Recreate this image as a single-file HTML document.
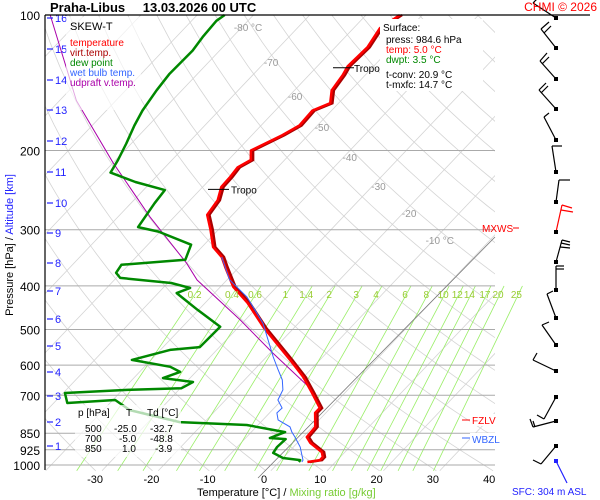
<!DOCTYPE html>
<html><head><meta charset="utf-8"><style>
body{margin:0;background:#fff;}
svg{display:block;font-family:"Liberation Sans",sans-serif;}
</style></head><body>
<svg id="c" width="600" height="500" viewBox="0 0 600 500" xmlns="http://www.w3.org/2000/svg">
<defs><clipPath id="pa"><rect x="45" y="15" width="450" height="457"/></clipPath>
<clipPath id="pm"><rect x="45" y="285" width="480" height="187"/></clipPath></defs>
<rect width="600" height="500" fill="#fff"/>
<g id="grid" clip-path="url(#pa)"></g>
<g id="mix" clip-path="url(#pm)"></g>
<g id="hl"></g>
<line x1="258" y1="478" x2="495" y2="237" stroke="#777" stroke-width="0.8"/>
<g id="traces"></g>
<g id="labels"></g>
<g id="barbs"></g>
<line x1="45" y1="15" x2="45" y2="470" stroke="#000" stroke-width="1.2"/>
<line x1="45" y1="15" x2="590" y2="15" stroke="#000" stroke-width="1.2"/>
<text x="50" y="12" font-size="13" font-weight="bold">Praha-Libus  <tspan dx="14">13.03.2026 00 UTC</tspan></text>
<text x="597" y="11" font-size="12" fill="#f00" text-anchor="end">CHMI © 2026</text>
<g>
<rect x="66" y="17" width="75" height="93" fill="#fff" fill-opacity="0.65"/>
<text x="70" y="30" font-size="11" fill="#000">SKEW-T</text>
<text x="70" y="46" font-size="10" fill="#f00">temperature</text>
<text x="70" y="56" font-size="10" fill="#a00">virt.temp.</text>
<text x="70" y="66" font-size="10" fill="#080">dew point</text>
<text x="70" y="76" font-size="10" fill="#36f">wet bulb temp.</text>
<text x="70" y="86" font-size="10" fill="#a0a">udpraft v.temp.</text>
</g>
<g>
<rect x="380" y="19" width="103" height="72" fill="#fff"/>
<text x="383" y="31" font-size="10">Surface:</text>
<text x="386" y="43" font-size="10">press: 984.6 hPa</text>
<text x="386" y="53" font-size="10" fill="#f00">temp: 5.0 °C</text>
<text x="386" y="63" font-size="10" fill="#080">dwpt: 3.5 °C</text>
<text x="386" y="78" font-size="10">t-conv: 20.9 °C</text>
<text x="386" y="88" font-size="10">t-mxfc: 14.7 °C</text>
</g>
<g>
<rect x="75" y="405" width="106" height="52" fill="#fff" fill-opacity="0.7"/>
<text x="78" y="416" font-size="10">p [hPa]</text><text x="126" y="416" font-size="10">T</text><text x="147" y="416" font-size="10">Td [°C]</text>
<text x="85" y="432" font-size="10">500</text><text x="114" y="432" font-size="10">-25.0</text><text x="150" y="432" font-size="10">-32.7</text>
<text x="85" y="442" font-size="10">700</text><text x="119" y="442" font-size="10">-5.0</text><text x="150" y="442" font-size="10">-48.8</text>
<text x="85" y="452" font-size="10">850</text><text x="122" y="452" font-size="10">1.0</text><text x="155" y="452" font-size="10">-3.9</text>
</g>
<g>
<text x="482" y="232" font-size="10" fill="#f00">MXWS</text><line x1="513" y1="228" x2="519" y2="228" stroke="#f00"/>
<rect x="470" y="414" width="28" height="12" fill="#fff"/><text x="472" y="424" font-size="10" fill="#f00">FZLV</text><line x1="462" y1="420" x2="470" y2="420" stroke="#f00"/>
<rect x="470" y="433" width="26" height="12" fill="#fff"/><text x="472" y="443" font-size="10" fill="#36f">WBZL</text><line x1="462" y1="438" x2="470" y2="438" stroke="#36f"/>
</g>
<text x="512" y="495" font-size="10" fill="#22f">SFC: 304 m ASL</text>
<text x="197" y="496" font-size="11">Temperature [°C]  /  <tspan fill="#7c3">Mixing ratio [g/kg]</tspan></text>
<text transform="translate(13,245) rotate(-90)" font-size="11" text-anchor="middle">Pressure [hPa]  /  <tspan fill="#22f">Altitude [km]</tspan></text>
</svg>
<script>
const tempP=[100,107,118,130,136,147,157,163,176,185,200,210,218,229,241,258,278,300,328,345,363,402,436,496,584,637,692,747,766,823,867,893,936,960,975,984.6];
const tempT=[-54.0,-55.3,-54.3,-54.6,-54.0,-53.4,-51.5,-53.4,-53.2,-54.6,-57.6,-56.0,-57.1,-56.8,-56.7,-55.1,-54.5,-51.4,-48.0,-44.8,-42.5,-37.7,-32.5,-25.3,-15.3,-10.1,-5.8,-1.9,-1.9,0.5,0.7,2.3,5.9,6.9,6.9,5.0];
const dewP=[100,103,112,120,135,147,163,176,193,210,224,235,245,262,296,303,324,350,359,374,384,394,404,415,452,493,547,555,584,605,621,641,654,675,681,692,728,717,755,803,815,845,871,876,912,940,965,975,984.6];
const dewT=[-85.1,-85.6,-85.3,-84.8,-85.0,-84.5,-83.6,-82.5,-80.9,-79.6,-78.8,-72.8,-66.2,-65.8,-64.7,-60.3,-52.3,-50.8,-61.3,-60.9,-59.3,-49.4,-45.2,-46.7,-40.2,-33.3,-33.5,-38.3,-43.4,-35.4,-32.8,-34.8,-28.8,-29.8,-39.2,-49.7,-47.6,-39.6,-35.3,-24.4,-12.0,-4.0,-5.7,-2.7,-2.9,-2.6,0,3.4,3.5];
const wbP=[345,388,423,484,575,615,647,681,717,747,766,794,823,845,867,912,975,984.6];
const wbT=[-44.8,-39.5,-33.6,-26.3,-18.8,-15.7,-13.3,-11.5,-10.7,-8.6,-8.7,-7.3,-4.0,-2.8,-1.4,1.2,3.9,4.0];
const updP=[100,155,213,281,356,388,476,564,664,681];
const updT=[-116.1,-97.0,-80.0,-64.3,-50.0,-45.3,-30.9,-19.5,-8.1,-6.3];
const pLevels=[100,200,300,400,500,600,700,850,925,1000];
const tTicks=[-30,-20,-10,0,10,20,30,40];
const kmTicks=[16,15,14,13,12,11,10,9,8,7,6,5,4,3,2,1];
const kmY=[18,49,80,110,141,172,203,233,263,291,319,346,372,396,422,446];
const mixVals=[0.2,0.4,0.6,1,1.4,2,3,4,6,8,10,12,14,17,20,25];
const isoLabels=[-80,-70,-60,-50,-40,-30,-20,-10];

const NS='http://www.w3.org/2000/svg';
function Y(p){return 15+450*Math.log10(p/100);}
function X(T,p){return 264+5.63*T+0.95*(478-Y(p));}
function mk(tag,parent,attrs){const e=document.createElementNS(NS,tag);for(const k in attrs)e.setAttribute(k,attrs[k]);parent.appendChild(e);return e;}
function pathFrom(P,T){return P.map((p,i)=>(i?'L':'M')+X(T[i],p).toFixed(1)+','+Y(p).toFixed(1)).join('');}
const grid=document.getElementById('grid');
for(let t=-130;t<=40;t+=10){const l=mk('line',grid,{x1:X(t,1030),y1:Y(1030),x2:X(t,100),y2:Y(100),stroke:'#d4d4d4','stroke-width':0.8});

}
for(let th=240;th<=480;th+=10){let d='';for(let p=1030;p>=100;p-=15){const T=th*Math.pow(p/1000,0.286)-273.15;d+=(d?'L':'M')+X(T,p).toFixed(1)+','+Y(p).toFixed(1);}
const e=mk('path',grid,{d:d,fill:'none',stroke:'#d4d4d4','stroke-width':0.8});

}
const mix=document.getElementById('mix');const labs=document.getElementById('labels');
function tdFromW(w,p){const e=w*p/(622+w);const l=Math.log(e/6.112);return 243.5*l/(17.67-l);}
mixVals.forEach(w=>{const l=mk('line',mix,{x1:X(tdFromW(w,1030),1030),y1:Y(1030),x2:X(tdFromW(w,400),400),y2:Y(400),stroke:'#9e6','stroke-width':0.8});


const t=mk('text',labs,{x:X(tdFromW(w,400),400)-6,y:298,'font-size':10,fill:'#9c3','text-anchor':'middle'});t.textContent=String(w);

});
const iy=[27,62,96,127,157,186,213,240];
isoLabels.forEach((t,i)=>{const y=iy[i];const p=100*Math.pow(10,(y-15)/450);const e=mk('text',labs,{x:X(t,p)+6,y:y+4,'font-size':10,fill:'#999','text-anchor':'middle'});e.textContent=(i==0||i==7)?t+' °C':String(t);

});
const hl=document.getElementById('hl');
pLevels.forEach(p=>{if(p>100){const l=mk('line',hl,{x1:45,y1:Y(p),x2:495,y2:Y(p),stroke:'#aaa','stroke-width':1});

}
const t=mk('text',labs,{x:40,y:Y(p)+5,'font-size':12,'text-anchor':'end'});t.textContent=String(p);

});
tTicks.forEach(T=>{const t=mk('text',labs,{x:264+5.63*T,y:483,'font-size':11,'text-anchor':'middle'});t.textContent=String(T);

});
kmTicks.forEach((k,i)=>{const l=mk('line',labs,{x1:47,y1:kmY[i],x2:53,y2:kmY[i],stroke:'#22f','stroke-width':1.2});


const t=mk('text',labs,{x:55,y:kmY[i]+4,'font-size':11,fill:'#22f'});t.textContent=String(k);

});
const tr=document.getElementById('traces');
const up=mk('path',tr,{d:pathFrom(updP,updT),fill:'none',stroke:'#a0a','stroke-width':1});


const dw=mk('path',tr,{d:pathFrom(dewP,dewT),fill:'none',stroke:'#080','stroke-width':2.5,'stroke-linejoin':'round'});


const vt=mk('path',tr,{d:pathFrom(tempP,tempT.map(v=>v+0.4)),fill:'none',stroke:'#a00','stroke-width':2.5});


const tl=mk('path',tr,{d:pathFrom(tempP,tempT),fill:'none',stroke:'#f00','stroke-width':2.5,'stroke-linejoin':'round'});


const wb=mk('path',tr,{d:pathFrom(wbP,wbT),fill:'none',stroke:'#36f','stroke-width':1});


[[131,'Tropo',333,352],[244,'Tropo',208,229]].forEach(a=>{const y=Y(a[0]);const l=mk('line',tr,{x1:a[2],y1:y,x2:a[2]+21,y2:y,stroke:'#000'});


const t=mk('text',tr,{x:a[3]+2,y:y+4,'font-size':10});t.textContent=a[1];

});
const barbs=[
[18,533,3,[[533,3,540,-4]]],[48,541,29,[[541,29,549,22],[544,33,551,26]]],[79,540,61,[[540,61,547,53],[542,64,549,57]]],
[109,539,90,[[539,90,546,83],[541,93,548,86]]],[140,544,117,[[544,117,549,113]]],[172,552,146,[[552,146,562,146]]],
[202,559,180,[[559,180,570,180]]],[232,562,205,[[562,205,572,208],[561,210,573,212]]],[262,562,240,[[562,240,570,242],[561,243,570,245],[560,247,570,248]]],
[290,556,266,[[556,266,564,266],[556,269,564,269]]],[318,547,294,[[547,294,553,291]]],[345,542,325,[[542,325,549,322]]],
[371,533,360,[[533,360,537,353]]],[397,544,419,[[544,419,537,415]]],[421,533,427,[[533,427,530,419],[535,427,533,421]]],[446,541,464,[[541,464,533,460]]]];
const bg=document.getElementById('barbs');
barbs.forEach(b=>{const red=b[0]==232;const c=red?'#f00':'#000';
const s=mk('line',bg,{x1:556,y1:b[0],x2:b[1],y2:b[2],stroke:c,'stroke-width':1.2});


b[3].forEach(f=>{mk('line',bg,{x1:f[0],y1:f[1],x2:f[2],y2:f[3],stroke:c,'stroke-width':1.2});});
const d=mk('rect',bg,{x:554,y:b[0]-2,width:4,height:4,fill:'#000'});

});
const sd=mk('rect',bg,{x:554,y:459,width:4,height:4,fill:'#22f'});


const sl=mk('line',bg,{x1:556,y1:461,x2:567,y2:483,stroke:'#22f','stroke-width':1.2});


</script>
</body></html>
